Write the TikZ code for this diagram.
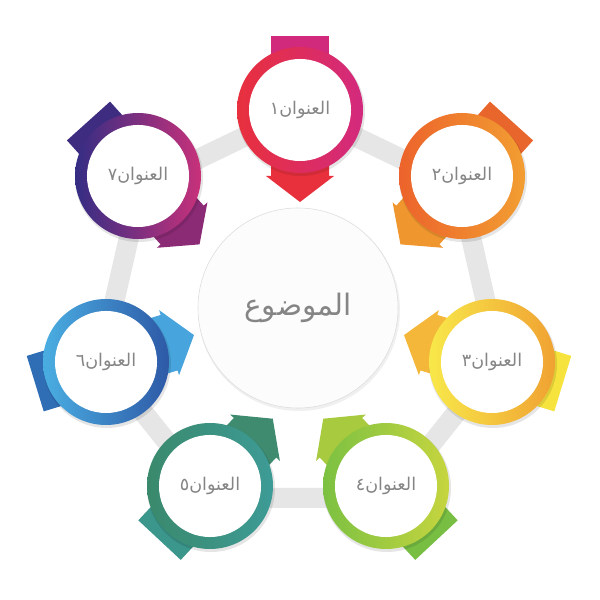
\documentclass[tikz,border=0pt]{standalone}
\usepackage{fontspec}
\newfontfamily\arabicfont[Script=Arabic]{DejaVu Sans}
\TeXXeTstate=1

\definecolor{labelgray}{HTML}{858585}
\definecolor{bandgray}{HTML}{E6E6E6}
\definecolor{hubedge}{HTML}{DDDDDD}
\definecolor{hubfill}{HTML}{FCFCFC}

\definecolor{redtail}{HTML}{D12A7C}   \definecolor{redhead}{HTML}{E8303D}
\definecolor{redleft}{HTML}{E8303D}   \definecolor{redright}{HTML}{D32A7E}
\definecolor{oratail}{HTML}{E8662C}   \definecolor{orahead}{HTML}{F0962F}
\definecolor{oraleft}{HTML}{EC632B}   \definecolor{oraright}{HTML}{F29E32}
\definecolor{yeltail}{HTML}{F7E33E}   \definecolor{yelhead}{HTML}{F4B73A}
\definecolor{yelleft}{HTML}{F8E84A}   \definecolor{yelright}{HTML}{F0A232}
\definecolor{grntail}{HTML}{78BE43}   \definecolor{grnhead}{HTML}{A8CA3E}
\definecolor{grnleft}{HTML}{7CC142}   \definecolor{grnright}{HTML}{C6D53F}
\definecolor{teatail}{HTML}{3B968C}   \definecolor{teahead}{HTML}{3E8B6F}
\definecolor{tealeft}{HTML}{3A896C}   \definecolor{tearight}{HTML}{3D9B96}
\definecolor{blutail}{HTML}{2F6DB5}   \definecolor{bluhead}{HTML}{48A4DC}
\definecolor{bluleft}{HTML}{4AAEE2}   \definecolor{bluright}{HTML}{2E59A6}
\definecolor{purtail}{HTML}{3E2C80}   \definecolor{purhead}{HTML}{8B2A75}
\definecolor{purleft}{HTML}{342D84}   \definecolor{purright}{HTML}{C8317A}

\tikzset{
	topic/.style={circle, fill=white, minimum size=2.55cm, inner sep=0pt, text=labelgray,
		font=\arabicfont\fontsize{12.5}{14}\selectfont},
	hub/.style={circle, fill=hubfill, draw=hubedge, line width=0.4pt, minimum size=5cm, inner sep=0pt,
		text=labelgray, font=\arabicfont\fontsize{21}{24}\selectfont},
	band/.style={draw=bandgray, line width=0.5cm, line join=round}
}

\newcommand{\drawtopic}[9]{% x, y, angle, tail, head, left, right, name, label
	\begin{scope}[shift={(#1,#2)}, rotate=#3]
		\fill[#4] (-74,-29) rectangle (0,29);
		\fill[#5] (0,-29) -- (66,-29) -- (66,-34) -- (92,0) -- (66,34) -- (66,29) -- (0,29) -- cycle;
	\end{scope}
	\fill[black, opacity=0.1] (#1+1,#2-2) circle[radius=64];
	\shade[left color=#6, right color=#7] (#1,#2) circle[radius=63];
	\node[topic] (#8) at (#1,#2) {\beginR #9\endR};
}

\begin{document}
\begin{tikzpicture}[x=0.025cm, y=0.025cm]

\useasboundingbox (0,0) rectangle (600,600);
\fill[white] (0,0) rectangle (600,600);

% heptagon behind the topics
\coordinate (h1) at (300,490);
\coordinate (h2) at (459.5,413.2);
\coordinate (h3) at (498.9,240.6);
\coordinate (h4) at (388.5,102.2);
\coordinate (h5) at (211.5,102.2);
\coordinate (h6) at (101.1,240.6);
\coordinate (h7) at (140.5,413.2);
\draw[band] (h1) -- (h2) -- (h3) -- (h4) -- (h5) -- (h6) -- (h7) -- cycle;

\fill[black, opacity=0.06] (299,290) circle[radius=101];
\node[hub] (subject) at (298,292) {\beginR الموضوع\endR};

\drawtopic{300}{490}{270}{redtail}{redhead}{redleft}{redright}{t1}{العنوان١}
\drawtopic{462}{424}{228}{oratail}{orahead}{oraleft}{oraright}{t2}{العنوان٢}
\drawtopic{492}{238}{163}{yeltail}{yelhead}{yelleft}{yelright}{t3}{العنوان٣}
\drawtopic{386}{114}{133}{grntail}{grnhead}{grnleft}{grnright}{t4}{العنوان٤}
\drawtopic{210}{114}{47}{teatail}{teahead}{tealeft}{tearight}{t5}{العنوان٥}
\drawtopic{106}{238}{17}{blutail}{bluhead}{bluleft}{bluright}{t6}{العنوان٦}
\drawtopic{138}{424}{312}{purtail}{purhead}{purleft}{purright}{t7}{العنوان٧}

\end{tikzpicture}
\end{document}
